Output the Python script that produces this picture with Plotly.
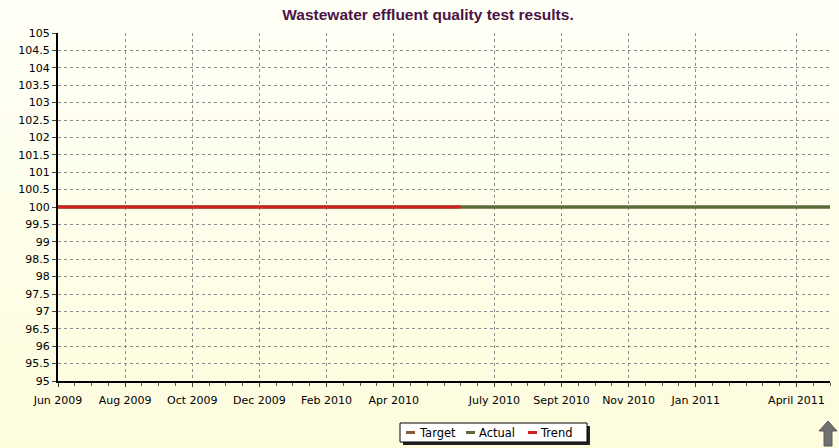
import plotly.graph_objects as go

# ---------------- data ----------------
months = ["Jun 2009", "Jul 2009", "Aug 2009", "Sep 2009", "Oct 2009", "Nov 2009",
          "Dec 2009", "Jan 2010", "Feb 2010", "Mar 2010", "Apr 2010", "May 2010",
          "Jun 2010", "Jul 2010", "Aug 2010", "Sep 2010", "Oct 2010", "Nov 2010",
          "Dec 2010", "Jan 2011", "Feb 2011", "Mar 2011", "Apr 2011", "May 2011"]
target = [100] * 24
actual = [100] * 24
trend = [100] * 13  # Jun 2009 .. Jun 2010

tick_labels = ["Jun 2009", "Aug 2009", "Oct 2009", "Dec 2009", "Feb 2010", "Apr 2010",
               "July 2010", "Sept 2010", "Nov 2010", "Jan 2011", "April 2011"]
tick_months = ["Jun 2009", "Aug 2009", "Oct 2009", "Dec 2009", "Feb 2010", "Apr 2010",
               "Jul 2010", "Sep 2010", "Nov 2010", "Jan 2011", "Apr 2011"]
y_ticks = [95 + 0.5 * i for i in range(21)]

series_colors = {"Target": "#8a5a34", "Actual": "#5b6b3c", "Trend": "#d21f1f"}

# ---------------- geometry helpers ----------------
W, H = 839, 448
L, R, T, B = 58, 830, 33, 381
x_idx = list(range(len(months)))
tick_idx = [months.index(m) for m in tick_months]
FONT = "DejaVu Sans, Liberation Sans, Arial"


def px(xp):
    return (xp - L) / (R - L)


def py(yp):
    return (B - yp) / (B - T)


fig = go.Figure()
fig.add_trace(go.Scatter(x=x_idx, y=target, mode="lines", name="Target",
                         line=dict(color=series_colors["Target"], width=3)))
fig.add_trace(go.Scatter(x=x_idx, y=actual, mode="lines", name="Actual",
                         line=dict(color=series_colors["Actual"], width=3)))
fig.add_trace(go.Scatter(x=x_idx[:len(trend)], y=trend, mode="lines", name="Trend",
                         line=dict(color=series_colors["Trend"], width=3)))

shapes = []
# background gradient (light yellow)
n = 30
c0 = (255, 255, 247)
c1 = (253, 252, 221)
for i in range(n):
    t = i / (n - 1)
    c = tuple(round(c0[k] + (c1[k] - c0[k]) * t) for k in range(3))
    y0 = i * H / n
    y1 = (i + 1) * H / n + 0.5
    shapes.append(dict(type="rect", xref="paper", yref="paper", layer="below",
                       x0=px(-2), x1=px(W + 2), y0=py(y1), y1=py(y0),
                       fillcolor="rgb(%d,%d,%d)" % c, line=dict(width=0)))
# hide top grid line
shapes.append(dict(type="line", xref="paper", yref="paper", layer="between",
                   x0=0, x1=1, y0=1, y1=1, line=dict(color="rgb(255,255,246)", width=2)))

# manual legend: shadow, box, stubs
lx0, lx1, ly0, ly1 = 400, 587, 423, 442
shapes.append(dict(type="rect", xref="paper", yref="paper", layer="above",
                   x0=px(lx0 + 3), x1=px(lx1 + 3), y0=py(ly1 + 3), y1=py(ly0 + 3),
                   fillcolor="#222222", line=dict(width=0)))
shapes.append(dict(type="rect", xref="paper", yref="paper", layer="above",
                   x0=px(lx0), x1=px(lx1), y0=py(ly1), y1=py(ly0),
                   fillcolor="white", line=dict(color="black", width=1)))
legend_items = [("Target", 406, 417), ("Actual", 466, 477), ("Trend", 528, 538)]
annotations = []
for name, sx, tx in legend_items:
    shapes.append(dict(type="line", xref="paper", yref="paper", layer="above",
                       x0=px(sx), x1=px(sx + 9), y0=py(432.5), y1=py(432.5),
                       line=dict(color=series_colors[name], width=3)))
    annotations.append(dict(text=name, xref="paper", yref="paper", x=px(tx), y=py(432.5),
                            xanchor="left", yanchor="middle", showarrow=False,
                            font=dict(family=FONT, size=11.5, color="black")))

# navigation arrow icon (bottom right)
ax = [px(v) for v in (828, 837, 832, 832, 824, 824, 819)]
ay = [py(v) for v in (421, 431, 431, 446, 446, 431, 431)]
path = "M " + " L ".join("%f,%f" % (a, b) for a, b in zip(ax, ay)) + " Z"
shapes.append(dict(type="path", xref="paper", yref="paper", layer="above", path=path,
                   fillcolor="#707070", line=dict(color="#5a5a5a", width=1)))

fig.update_layout(
    width=W, height=H,
    margin=dict(l=L, r=W - R, t=T, b=H - B, pad=0),
    paper_bgcolor="rgb(254,254,235)",
    plot_bgcolor="rgba(0,0,0,0)",
    showlegend=False,
    font=dict(family=FONT, size=11, color="black"),
    title=dict(text="<b>Wastewater effluent quality test results.</b>",
               x=px(428), xref="paper", xanchor="center",
               y=1 - 15 / H, yref="container", yanchor="middle",
               font=dict(family="Liberation Sans, Arial", size=15.5, color="#4a1446")),
    shapes=shapes,
    annotations=annotations,
    xaxis=dict(range=[0, 23], tickmode="array", tickvals=tick_idx, ticktext=tick_labels,
               showgrid=True, gridcolor="#8c8c8c", griddash="3px,3px", gridwidth=1,
               zeroline=False, showline=True, linecolor="black", linewidth=2,
               ticks="outside", ticklen=4, tickcolor="#444444", ticklabelstandoff=4,
               tickfont=dict(family=FONT, size=11, color="black"),
               minor=dict(dtick=0.5, tick0=0, ticks="outside", ticklen=3,
                          tickcolor="#555555", showgrid=False)),
    yaxis=dict(range=[95, 105], tickmode="array", tickvals=y_ticks,
               ticktext=[("%g" % v) for v in y_ticks],
               showgrid=True, gridcolor="#8c8c8c", griddash="3px,3px", gridwidth=1,
               zeroline=False, showline=True, linecolor="black", linewidth=2,
               ticks="outside", ticklen=4, tickcolor="#444444",
               tickfont=dict(family=FONT, size=11, color="black")),
)

fig.write_html("out.html", config={"displayModeBar": False},
               post_script="document.body.style.margin='0px';")
